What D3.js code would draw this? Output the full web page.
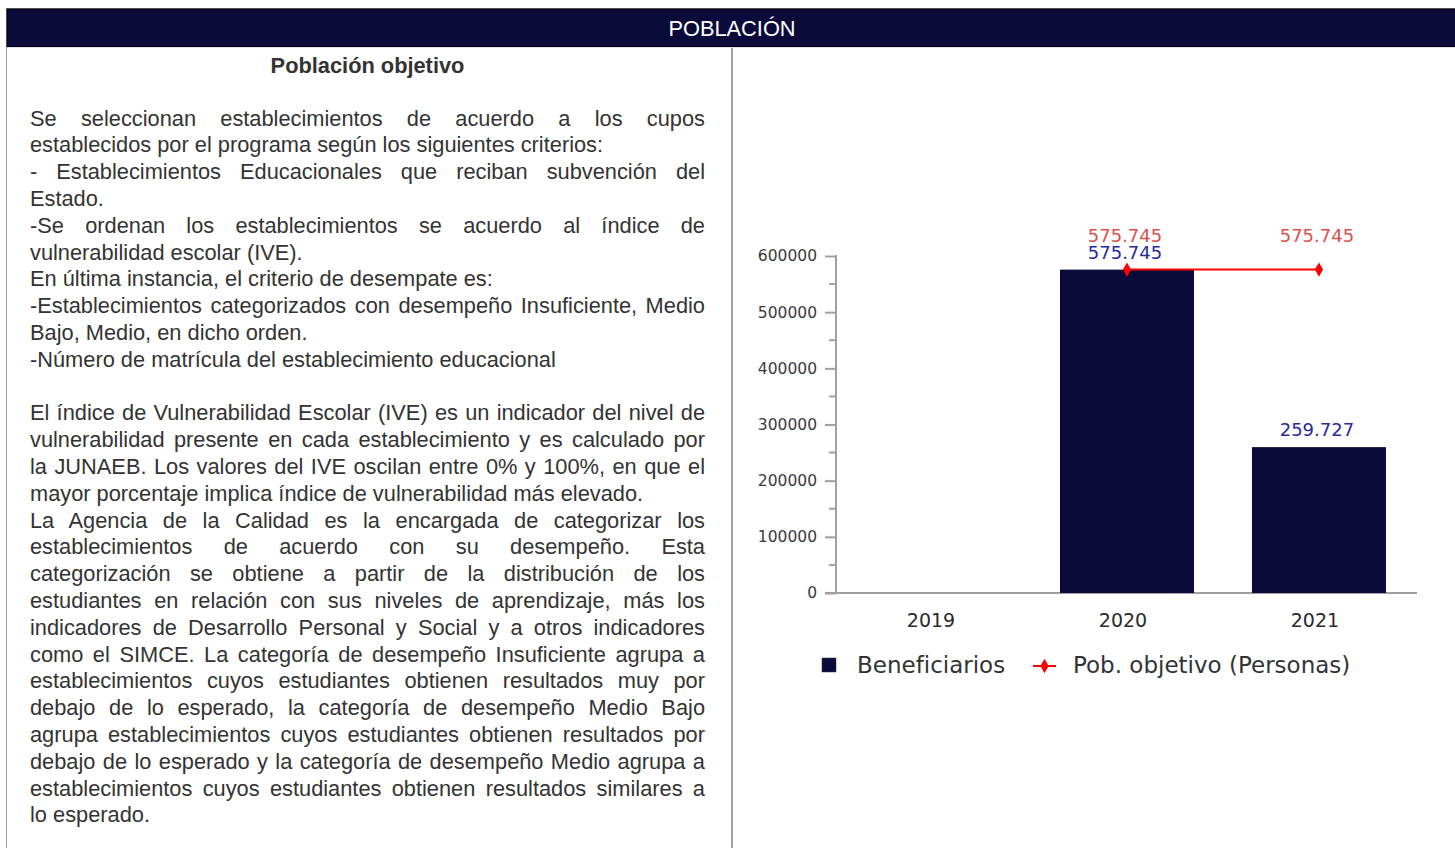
<!DOCTYPE html>
<html lang="es">
<head>
<meta charset="utf-8" />
<title>Población</title>
<script src="https://cdn.jsdelivr.net/npm/d3@7/dist/d3.min.js"></script>
<style>
  html, body { margin: 0; padding: 0; background: #fff; }
  #wrap { position: relative; width: 1455px; height: 848px; overflow: hidden; }
  svg { position: absolute; left: 0; top: 0; }
  .txt { position: absolute; font-family: "Liberation Sans", Arial, sans-serif; color: #333; }
  .line { position: absolute; left: 30px; width: 675px; font-size: 21.8px; line-height: 26.8px; white-space: nowrap; }
  .just { text-align: justify; text-align-last: justify; white-space: normal; }
</style>
</head>
<body>
<div id="wrap"></div>
<script>
// chart data
var years = ['2019', '2020', '2021'];
var beneficiarios = [null, 575745, 259727];
var poblacionObjetivo = [null, 575745, 575745];
var yTicks = [0, 100000, 200000, 300000, 400000, 500000, 600000];

// text of the left panel, one entry per rendered line; 1 = justified
var textLines = [
  ['Se seleccionan establecimientos de acuerdo a los cupos', 1],
  ['establecidos por el programa según los siguientes criterios:', 0],
  ['- Establecimientos Educacionales que reciban subvención del', 1],
  ['Estado.', 0],
  ['-Se ordenan los establecimientos se acuerdo al índice de', 1],
  ['vulnerabilidad escolar (IVE).', 0],
  ['En última instancia, el criterio de desempate es:', 0],
  ['-Establecimientos categorizados con desempeño Insuficiente, Medio', 1],
  ['Bajo, Medio, en dicho orden.', 0],
  ['-Número de matrícula del establecimiento educacional', 0],
  ['', 0],
  ['El índice de Vulnerabilidad Escolar (IVE) es un indicador del nivel de', 1],
  ['vulnerabilidad presente en cada establecimiento y es calculado por', 1],
  ['la JUNAEB. Los valores del IVE oscilan entre 0% y 100%, en que el', 1],
  ['mayor porcentaje implica índice de vulnerabilidad más elevado.', 0],
  ['La Agencia de la Calidad es la encargada de categorizar los', 1],
  ['establecimientos de acuerdo con su desempeño. Esta', 1],
  ['categorización se obtiene a partir de la distribución de los', 1],
  ['estudiantes en relación con sus niveles de aprendizaje, más los', 1],
  ['indicadores de Desarrollo Personal y Social y a otros indicadores', 1],
  ['como el SIMCE. La categoría de desempeño Insuficiente agrupa a', 1],
  ['establecimientos cuyos estudiantes obtienen resultados muy por', 1],
  ['debajo de lo esperado, la categoría de desempeño Medio Bajo', 1],
  ['agrupa establecimientos cuyos estudiantes obtienen resultados por', 1],
  ['debajo de lo esperado y la categoría de desempeño Medio agrupa a', 1],
  ['establecimientos cuyos estudiantes obtienen resultados similares a', 1],
  ['lo esperado.', 0]
];

var navy = '#0b0b3b',
    grey = '#a0a0a0',
    chartFont = '"DejaVu Sans", Verdana, sans-serif';

var wrap = d3.select('#wrap');
var svg = wrap.append('svg').attr('width', 1455).attr('height', 848);

// frame + header band
svg.append('rect').attr('x', 6.5).attr('y', 8.5).attr('width', 1460).attr('height', 850)
    .attr('fill', 'none').attr('stroke', grey);
svg.append('rect').attr('x', 7).attr('y', 9).attr('width', 1450).attr('height', 38)
    .attr('fill', navy).attr('stroke', '#000').attr('stroke-width', 1);
svg.append('line').attr('x1', 7).attr('x2', 1455).attr('y1', 47.5).attr('y2', 47.5)
    .attr('stroke', '#ddd');
svg.append('line').attr('x1', 732).attr('x2', 732).attr('y1', 48).attr('y2', 848)
    .attr('stroke', grey).attr('stroke-width', 2);
svg.append('text').attr('x', 732).attr('y', 36).attr('text-anchor', 'middle')
    .attr('fill', '#fff').style('font-family', '"Liberation Sans", Arial, sans-serif')
    .style('font-size', '21.8px').text('POBLACIÓN');

// left panel text
wrap.append('div').attr('class', 'txt')
    .style('left', '30px').style('width', '675px').style('top', '53px')
    .style('text-align', 'center').style('font-weight', 'bold').style('font-size', '21.8px')
    .style('line-height', '26px').text('Población objetivo');

wrap.selectAll('div.line').data(textLines).enter().append('div')
    .attr('class', function(d) { return 'txt line' + (d[1] ? ' just' : ''); })
    .style('top', function(d, i) { return (105.6 + i * 26.8) + 'px'; })
    .text(function(d) { return d[0]; });

// chart
var x = d3.scaleBand().domain(years).range([836, 1418])
          .paddingInner(0.302).paddingOuter(0.167);
var y = d3.scaleLinear().domain([0, 600000]).range([593, 256]);

var g = svg.append('g');

// minor ticks every 50000
var minor = d3.range(50000, 600000, 100000);
g.selectAll('line.minor').data(minor).enter().append('line')
    .attr('x1', 829).attr('x2', 836)
    .attr('y1', function(d) { return y(d); }).attr('y2', function(d) { return y(d); })
    .attr('stroke', grey).attr('stroke-width', 2);

var yAxis = d3.axisLeft(y).tickValues(yTicks).tickSize(11).tickPadding(8)
              .tickFormat(function(d) { return String(d); });
var ya = g.append('g').attr('transform', 'translate(836,0)').call(yAxis);
ya.select('.domain').remove();
ya.selectAll('line').attr('stroke', grey).attr('stroke-width', 2);
ya.selectAll('text').attr('fill', '#3a3a3a').style('font-family', chartFont).style('font-size', '15.5px');

// axis lines
g.append('line').attr('x1', 836).attr('x2', 836).attr('y1', 255).attr('y2', 594)
    .attr('stroke', grey).attr('stroke-width', 2);
g.append('line').attr('x1', 825).attr('x2', 1417).attr('y1', 593).attr('y2', 593)
    .attr('stroke', grey).attr('stroke-width', 2);

// category labels
g.selectAll('text.cat').data(years).enter().append('text')
    .attr('x', function(d) { return x(d) + x.bandwidth() / 2 - 4; })
    .attr('y', 627).attr('text-anchor', 'middle')
    .attr('fill', '#2a2a2a').style('font-family', chartFont).style('font-size', '19px')
    .text(function(d) { return d; });

// bars
var barData = years.map(function(d, i) { return { year: d, v: beneficiarios[i] }; })
                   .filter(function(d) { return d.v != null; });
g.selectAll('rect.bar').data(barData).enter().append('rect')
    .attr('x', function(d) { return x(d.year); })
    .attr('y', function(d) { return y(d.v); })
    .attr('width', x.bandwidth())
    .attr('height', function(d) { return y(0) - y(d.v); })
    .attr('fill', navy);

var fmt = function(v) { return d3.format(',')(v).replace(/,/g, '.'); };

g.selectAll('text.bl').data(barData).enter().append('text')
    .attr('x', function(d) { return x(d.year) + x.bandwidth() / 2 - 2; })
    .attr('y', function(d) { return y(d.v) - 11; })
    .attr('text-anchor', 'middle').attr('fill', '#2a2a9c')
    .style('font-family', chartFont).style('font-size', '18px')
    .text(function(d) { return fmt(d.v); });

// line series
var lineData = years.map(function(d, i) { return { year: d, v: poblacionObjetivo[i] }; })
                    .filter(function(d) { return d.v != null; });
var cx = function(d) { return x(d.year) + x.bandwidth() / 2; };
g.append('path').datum(lineData)
    .attr('d', d3.line().x(cx).y(function(d) { return y(d.v); }))
    .attr('fill', 'none').attr('stroke', '#ff0000').attr('stroke-width', 2);
var diamond = d3.symbol().type(d3.symbolDiamond).size(60);
g.selectAll('path.pt').data(lineData).enter().append('path')
    .attr('d', diamond)
    .attr('transform', function(d) { return 'translate(' + cx(d) + ',' + y(d.v) + ')'; })
    .attr('fill', '#ff0000');
g.selectAll('text.ll').data(lineData).enter().append('text')
    .attr('x', function(d) { return cx(d) - 2; })
    .attr('y', function(d) { return y(d.v) - 28; })
    .attr('text-anchor', 'middle').attr('fill', '#dd4f4f')
    .style('font-family', chartFont).style('font-size', '18px')
    .text(function(d) { return fmt(d.v); });

// legend
var lg = svg.append('g');
lg.append('rect').attr('x', 822).attr('y', 658).attr('width', 14).attr('height', 14)
    .attr('fill', navy).attr('stroke', '#333').attr('stroke-width', 0.5);
lg.append('text').attr('x', 857).attr('y', 673)
    .attr('fill', '#333').style('font-family', chartFont).style('font-size', '23px')
    .text('Beneficiarios');
lg.append('line').attr('x1', 1033).attr('x2', 1056).attr('y1', 666).attr('y2', 666)
    .attr('stroke', '#ff0000').attr('stroke-width', 2);
lg.append('path').attr('d', diamond).attr('transform', 'translate(1044.5,666)').attr('fill', '#ff0000');
lg.append('text').attr('x', 1073).attr('y', 673)
    .attr('fill', '#333').style('font-family', chartFont).style('font-size', '23px')
    .text('Pob. objetivo (Personas)');
</script>
</body>
</html>
